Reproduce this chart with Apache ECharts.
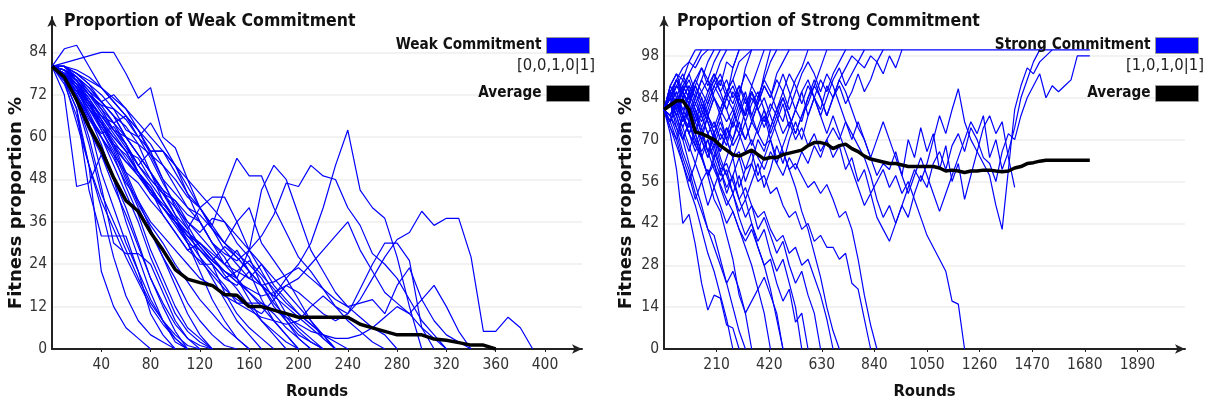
<!DOCTYPE html>
<html>
<head>
<meta charset="utf-8">
<title>Proportion of Weak / Strong Commitment</title>
<script src="https://cdn.jsdelivr.net/npm/echarts@6/dist/echarts.min.js"></script>
<style>
html, body { margin: 0; padding: 0; background: #fff; }
#chart { width: 1206px; height: 405px; }
</style>
</head>
<body>
<div id="chart"></div>
<script>
// ---- weak commitment (left), one value every 10 rounds, run stops when it hits 0
var weakStep = 10;
var weakYTicks = [0, 12, 24, 36, 48, 60, 72, 84];
var weakXTicks = [40, 80, 120, 160, 200, 240, 280, 320, 360, 400];
var weakAverage = [80, 77, 70.5, 63, 56.5, 48.5, 42, 39, 33, 28, 22.5, 19.8, 18.8, 18, 15.4, 15.2, 12, 12, 11, 10,
    9, 9, 9, 9, 9, 7, 6, 5, 4, 4, 4, 2.8, 2.5, 1.8, 1.1, 1.1, 0];
var weakRuns = [
    [80, 76, 68, 52, 22, 12, 6, 3, 0],
    [80, 75, 66, 52, 40, 26, 15, 8, 4, 2, 0],
    [80, 76, 68, 45, 32, 32, 32, 22, 10, 4, 0],
    [80, 78, 72, 64, 50, 40, 30, 22, 14, 8, 3, 0],
    [80, 79, 74, 66, 58, 48, 36, 26, 16, 8, 2, 0],
    [80, 77, 71, 60, 46, 30, 27, 27, 24, 16, 8, 3, 0],
    [80, 78, 73, 67, 60, 52, 44, 36, 26, 18, 10, 5, 2, 0],
    [80, 80, 76, 70, 62, 55, 46, 38, 28, 20, 12, 6, 3, 0],
    [80, 72, 46, 47, 55, 48, 40, 30, 20, 12, 5, 0],
    [80, 79, 75, 70, 64, 58, 50, 42, 34, 26, 18, 10, 4, 0],
    [80, 77, 70, 62, 55, 46, 38, 29, 20, 13, 7, 3, 1, 0],
    [80, 78, 74, 68, 62, 56, 48, 40, 33, 26, 20, 13, 8, 4, 1, 0],
    [80, 78, 70, 58, 44, 36, 28, 20, 13, 8, 4, 1, 0],
    [80, 76, 64, 52, 42, 34, 26, 19, 12, 7, 3, 0],
    [80, 79, 76, 71, 65, 57, 49, 41, 35, 30, 24, 19, 14, 10, 6, 3, 0],
    [80, 80, 78, 75, 70, 66, 60, 55, 50, 45, 38, 30, 22, 14, 8, 3, 0],
    [80, 79, 76, 72, 68, 62, 58, 52, 56, 48, 40, 34, 26, 20, 14, 8, 4, 0],
    [80, 78, 74, 70, 66, 64, 60, 55, 50, 42, 36, 30, 24, 24, 16, 10, 6, 3, 0],
    [80, 80, 77, 74, 70, 72, 68, 62, 56, 56, 50, 44, 36, 30, 24, 28, 22, 14, 8, 4, 0],
    [80, 79, 76, 72, 69, 68, 65, 60, 64, 58, 52, 46, 40, 34, 30, 27, 24, 20, 14, 8, 3, 0],
    [80, 78, 75, 70, 66, 62, 60, 58, 50, 44, 40, 36, 32, 28, 24, 20, 16, 12, 8, 4, 0],
    [80, 77, 73, 68, 64, 60, 56, 54, 48, 44, 42, 36, 33, 37, 36, 30, 26, 18, 12, 8, 4, 2, 0],
    [80, 80, 79, 77, 74, 70, 66, 62, 55, 48, 44, 40, 38, 34, 30, 26, 22, 18, 15, 12, 9, 6, 3, 0],
    [80, 78, 74, 69, 65, 60, 56, 50, 46, 40, 36, 31, 26, 22, 18, 13, 13, 13, 10, 6, 3, 0],
    [80, 79, 77, 73, 68, 64, 58, 52, 48, 44, 38, 34, 40, 43, 43, 36, 28, 22, 16, 10, 6, 3, 0],
    [80, 79, 77, 74, 70, 66, 63, 58, 55, 52, 48, 43, 40, 35, 30, 36, 40, 30, 25, 20, 14, 8, 3, 0],
    [80, 80, 78, 76, 74, 71, 68, 64, 60, 56, 52, 48, 44, 40, 36, 32, 28, 24, 20, 16, 12, 8, 4, 0],
    [80, 77, 72, 66, 61, 63, 58, 50, 45, 38, 33, 28, 30, 26, 21, 17, 12, 8, 5, 2, 0],
    [80, 80, 77, 72, 69, 64, 66, 60, 54, 47, 41, 35, 29, 25, 29, 26, 22, 18, 13, 9, 5, 2, 0],
    [80, 79, 75, 69, 63, 57, 53, 49, 45, 41, 37, 32, 28, 24, 20, 22, 25, 21, 17, 13, 10, 7, 4, 2, 0],
    [80, 81, 82, 83, 84, 84, 78, 71, 74, 60, 57, 48, 40, 34, 28, 24, 20, 24, 18, 14, 10, 7, 4, 0],
    [80, 85, 86, 80, 74, 70, 66, 62, 58, 52, 46, 40, 36, 30, 26, 20, 14, 8, 4, 0],
    [80, 78, 74, 70, 64, 58, 55, 50, 44, 40, 35, 30, 28, 24, 20, 18, 22, 18, 15, 20, 24, 30, 40, 52, 62, 45, 40, 37, 26, 12, 0],
    [80, 76, 72, 65, 60, 55, 50, 47, 42, 38, 33, 28, 25, 21, 17, 14, 12, 10, 14, 18, 16, 13, 10, 8, 10, 14, 20, 26, 31, 33, 39, 35, 37, 37, 26, 5, 5, 9, 6, 0],
    [80, 77, 72, 66, 60, 54, 47, 42, 36, 32, 28, 24, 20, 18, 15, 13, 11, 9, 8, 7, 8, 12, 15, 12, 10, 17, 24, 30, 30, 25, 6, 0],
    [80, 79, 77, 73, 70, 66, 60, 55, 50, 45, 42, 38, 36, 30, 27, 25, 28, 32, 38, 47, 46, 52, 49, 48, 40, 35, 27, 24, 20, 14, 8, 4, 0],
    [80, 80, 78, 75, 72, 68, 62, 60, 56, 56, 52, 44, 40, 35, 45, 54, 49, 49, 40, 33, 26, 22, 17, 12, 8, 5, 2, 0],
    [80, 77, 73, 68, 63, 58, 53, 50, 46, 40, 36, 32, 30, 26, 22, 20, 28, 45, 52, 48, 38, 28, 22, 16, 12, 9, 6, 4, 0],
    [80, 78, 75, 71, 66, 61, 56, 50, 45, 40, 36, 32, 28, 25, 22, 19, 17, 15, 16, 18, 20, 24, 28, 32, 36, 28, 22, 16, 13, 10, 6, 3, 0],
    [80, 79, 76, 72, 67, 62, 57, 52, 47, 42, 37, 33, 29, 25, 22, 19, 16, 13, 11, 9, 7, 5, 4, 3, 3, 4, 6, 9, 12, 10, 14, 18, 12, 5, 0],
    [80, 78, 74, 69, 64, 59, 54, 49, 44, 40, 36, 33, 30, 27, 24, 22, 20, 18, 19, 21, 23, 20, 17, 14, 12, 13, 14, 10, 18, 23, 14, 8, 4, 2, 0]
];

// ---- strong commitment (right), one value every 25 rounds
var strongStep = 25;
var strongYTicks = [0, 14, 28, 42, 56, 70, 84, 98];
var strongXTicks = [210, 420, 630, 840, 1050, 1260, 1470, 1680, 1890];
var strongAverage = [80, 81.5, 83, 83, 80, 72.5, 72, 71, 70, 68, 66.5, 65, 64.5, 65.5, 66.5, 65, 63.5, 64, 64, 65,
    65.5, 66, 66.5, 68, 69, 69, 68.5, 67, 68, 68.5, 67, 66, 64.5, 63.5, 63, 62.5, 62, 62, 61.5, 61,
    61, 61, 61, 61, 60.5, 59.5, 59.8, 59.5, 59, 59.5, 59.5, 59.8, 59.8, 59.5, 59.3, 59.5, 60.5, 61, 62, 62.3,
    62.8, 63.1, 63.1, 63.1, 63.1, 63.1, 63.1, 63.1, 63.1];
// runs that fixed at 100 stay there until the last round
var strongFixed = [[125, 100], [1700, 100]];
var strongRuns = [
    [80, 86, 90, 94, 96, 100],
    [80, 84, 88, 86, 92, 96, 100],
    [80, 88, 92, 90, 96, 94, 98, 100],
    [80, 82, 78, 84, 88, 84, 90, 96, 100],
    [80, 84, 90, 86, 82, 88, 94, 90, 96, 100],
    [80, 86, 82, 88, 92, 86, 80, 86, 90, 96, 100],
    [80, 82, 88, 84, 78, 84, 90, 86, 92, 88, 96, 94, 100],
    [80, 76, 82, 78, 86, 80, 74, 80, 86, 90, 84, 94, 100],
    [80, 78, 84, 90, 86, 80, 76, 82, 88, 92, 86, 90, 96, 98, 100],
    [80, 84, 78, 72, 66, 74, 70, 78, 84, 80, 86, 90, 84, 94, 100],
    [80, 86, 82, 76, 82, 88, 84, 78, 72, 78, 84, 80, 86, 92, 88, 94, 100],
    [80, 74, 68, 62, 56, 62, 70, 64, 72, 78, 70, 76, 82, 78, 86, 82, 92, 100],
    [80, 82, 74, 70, 76, 68, 64, 58, 64, 72, 68, 76, 72, 80, 88, 84, 90, 96, 100],
    [80, 86, 80, 84, 78, 72, 80, 76, 70, 66, 74, 70, 78, 84, 76, 82, 88, 84, 92, 96, 100],
    [80, 78, 72, 64, 58, 50, 56, 48, 54, 60, 52, 58, 64, 56, 62, 70, 66, 74, 80, 76, 84, 90, 94, 100],
    [80, 82, 86, 78, 74, 80, 72, 66, 70, 62, 58, 64, 54, 60, 66, 58, 64, 70, 62, 68, 74, 80, 76, 84, 88, 94, 100],
    [80, 88, 92, 86, 90, 84, 78, 84, 90, 86, 80, 74, 80, 86, 78, 72, 78, 70, 76, 82, 74, 80, 86, 78, 84, 90, 86, 92, 96, 100],
    [80, 76, 82, 88, 84, 78, 72, 66, 72, 64, 58, 52, 58, 50, 56, 62, 54, 60, 68, 62, 70, 76, 70, 78, 84, 80, 88, 84, 90, 94, 98, 96, 100],
    [80, 76, 82, 78, 72, 78, 84, 78, 72, 66, 72, 78, 84, 78, 86, 80, 74, 80, 86, 92, 86, 80, 86, 90, 84, 78, 84, 90, 94, 88,
        92, 96, 94, 98, 96, 100],
    [80, 84, 80, 86, 82, 76, 82, 76, 70, 76, 70, 64, 70, 76, 68, 74, 80, 72, 78, 84, 78, 72, 78, 84, 90, 84, 78, 84, 88, 82,
        86, 92, 86, 90, 96, 92, 98, 94, 100],
    [80, 76, 70, 62, 54, 48, 40, 32, 26, 18, 10, 0],
    [80, 72, 60, 42, 45, 35, 22, 13, 18, 17, 8, 7, 0],
    [80, 84, 78, 70, 62, 55, 48, 40, 38, 30, 22, 14, 6, 0],
    [80, 86, 82, 76, 80, 72, 65, 58, 50, 46, 38, 30, 18, 12, 0],
    [80, 84, 80, 74, 68, 62, 56, 60, 54, 48, 42, 46, 40, 34, 28, 20, 12, 0],
    [80, 82, 78, 84, 76, 70, 64, 58, 62, 54, 48, 52, 44, 38, 42, 34, 28, 20, 10, 0],
    [80, 78, 74, 66, 60, 52, 46, 40, 34, 28, 22, 26, 20, 12, 16, 20, 24, 18, 12, 0],
    [80, 86, 80, 74, 80, 72, 66, 70, 62, 56, 60, 52, 46, 50, 42, 36, 40, 32, 26, 30, 22, 14, 0],
    [80, 88, 84, 78, 72, 68, 74, 66, 60, 55, 50, 46, 40, 36, 40, 34, 28, 30, 22, 16, 20, 9, 12, 0],
    [80, 78, 84, 78, 72, 76, 70, 64, 68, 60, 54, 58, 50, 44, 48, 40, 44, 38, 32, 36, 28, 22, 26, 18, 12, 0],
    [80, 76, 82, 86, 80, 74, 70, 72, 66, 60, 62, 56, 50, 54, 48, 44, 46, 40, 36, 38, 32, 34, 28, 30, 24, 18, 10, 0],
    [80, 84, 88, 92, 86, 90, 94, 88, 92, 86, 90, 84, 88, 82, 86, 80, 84, 78, 72, 66, 60, 54, 46, 40, 32, 24, 14, 6, 0],
    [80, 84, 90, 86, 82, 76, 78, 72, 68, 74, 70, 64, 66, 60, 62, 56, 58, 52, 54, 48, 44, 46, 40, 42, 36, 38, 34, 34, 30, 32,
        22, 20, 10, 0],
    [80, 82, 86, 80, 84, 88, 82, 78, 84, 80, 76, 80, 74, 70, 76, 72, 68, 70, 64, 66, 60, 62, 58, 54, 56, 52, 55, 50, 44, 46,
        40, 30, 18, 8, 0],
    [80, 84, 80, 88, 84, 90, 86, 82, 88, 84, 80, 86, 82, 78, 84, 80, 76, 82, 78, 72, 76, 70, 74, 68, 72, 66, 70, 64, 68, 60,
        64, 56, 60, 52, 56, 60, 54, 58, 52, 56, 50, 44, 38, 34, 30, 26, 16, 15, 0],
    [80, 78, 84, 80, 76, 82, 78, 72, 76, 70, 74, 68, 72, 66, 70, 64, 60, 66, 62, 58, 64, 60, 66, 62, 68, 64, 70, 74, 70, 76,
        72, 68, 64, 58, 50, 44, 48, 42, 48, 54, 60, 56, 62, 70, 78, 72, 80, 87, 76, 70, 66, 62, 58, 48, 40, 60, 80, 88, 94, 92,
        96, 98, 100],
    [80, 86, 90, 84, 88, 82, 86, 90, 84, 78, 84, 88, 82, 76, 82, 86, 80, 74, 80, 84, 78, 72, 78, 82, 88, 84, 78, 84, 90, 86,
        80, 74, 70, 64, 58, 62, 60, 66, 58, 70, 64, 74, 66, 72, 60, 68, 56, 62, 50, 58, 66, 74, 78, 72, 76, 64, 54],
    [80, 74, 70, 78, 72, 66, 72, 78, 74, 80, 86, 82, 88, 84, 78, 84, 90, 86, 80, 86, 92, 88, 82, 88, 84, 78, 72, 78, 72, 66,
        60, 54, 48, 52, 44, 40, 36, 42, 48, 44, 52, 58, 54, 62, 66, 60, 68, 72, 66, 74, 70, 64, 62, 56, 66, 72, 70, 78, 84, 88,
        92, 84, 88, 86, 88, 90, 98, 98, 98],
    [80, 82, 76, 70, 76, 70, 64, 70, 64, 58, 64, 70, 76, 70, 76, 82, 88, 84, 90, 86, 80, 86, 92, 96, 92, 86, 92, 88, 82, 76,
        70, 76, 70, 64, 70, 76, 70, 64, 58, 52, 58, 64, 58, 52, 46, 52, 58, 64, 70, 76, 72, 78, 64, 70, 60, 66, 74, 84, 90, 96,
        100]
];

var BLUE = '#0000ff';
var FONT = "'Liberation Sans Narrow', 'DejaVu Sans Condensed', 'Liberation Sans', sans-serif";
var NAME_FONT = "'DejaVu Sans', sans-serif";

function runLine(values, step, idx, name) {
    return {
        name: name,
        type: 'line',
        xAxisIndex: idx,
        yAxisIndex: idx,
        data: values.map(function (v, i) { return [i * step, v]; }),
        showSymbol: false,
        silent: true,
        itemStyle: { color: BLUE },
        lineStyle: { color: BLUE, width: 1.2 },
        z: 2
    };
}

function avgLine(values, step, idx) {
    return {
        name: 'Average',
        type: 'line',
        xAxisIndex: idx,
        yAxisIndex: idx,
        data: values.map(function (v, i) { return [i * step, v]; }),
        showSymbol: false,
        silent: true,
        itemStyle: { color: '#000' },
        lineStyle: { color: '#000', width: 3.5 },
        z: 5
    };
}

function plain(v) { return String(v); }

function xAxis(idx, max, interval, ticks) {
    return {
        type: 'value', gridIndex: idx, min: 0, max: max, interval: interval,
        name: 'Rounds', nameLocation: 'middle', nameGap: 34,
        nameTextStyle: { fontFamily: FONT, fontWeight: 'bold', fontSize: 16.5, color: '#111' },
        axisLine: { symbol: ['none', 'arrow'], symbolSize: [7, 10], lineStyle: { color: '#222', width: 2 } },
        axisTick: { show: true, length: 3, customValues: ticks, lineStyle: { color: '#222' } },
        axisLabel: { customValues: ticks, formatter: plain, margin: 8, fontFamily: FONT, fontSize: 15.5, color: '#333' },
        splitLine: { show: false }
    };
}

function yAxis(idx, max, interval, ticks, gap) {
    return {
        type: 'value', gridIndex: idx, min: 0, max: max, interval: interval,
        name: 'Fitness proportion %', nameLocation: 'middle', nameGap: gap,
        // the name sits a little below the middle of the axis
        nameTextStyle: { fontFamily: NAME_FONT, fontWeight: 'bold', fontSize: 18, color: '#111', padding: [0, 40, 0, 0] },
        axisLine: { show: true, symbol: ['none', 'arrow'], symbolSize: [7, 10], lineStyle: { color: '#222', width: 2 } },
        axisTick: { show: false },
        axisLabel: { customValues: ticks, formatter: plain, margin: 5, fontFamily: FONT, fontSize: 15.5, color: '#333' },
        splitLine: { show: true, showMinLine: false, showMaxLine: false, lineStyle: { color: '#eeeeee', width: 1.5 } }
    };
}

function legend(right, name) {
    return {
        orient: 'vertical', right: right, top: 32, align: 'right', icon: 'rect',
        itemWidth: 43, itemHeight: 16, itemGap: 31, selectedMode: false,
        textStyle: { fontFamily: FONT, fontWeight: 'bold', fontSize: 15.2, color: '#111' },
        itemStyle: { borderColor: '#999', borderWidth: 1 },
        data: [
            { name: name, itemStyle: { color: BLUE } },
            { name: 'Average', itemStyle: { color: '#000' } }
        ]
    };
}

var series = [];
weakRuns.forEach(function (run) { series.push(runLine(run, weakStep, 0, 'Weak Commitment')); });
series.push(avgLine(weakAverage, weakStep, 0));
strongRuns.forEach(function (run) { series.push(runLine(run, strongStep, 1, 'Strong Commitment')); });
series.push({
    name: 'Strong Commitment', type: 'line', xAxisIndex: 1, yAxisIndex: 1,
    data: strongFixed, showSymbol: false, silent: true,
    itemStyle: { color: BLUE }, lineStyle: { color: BLUE, width: 1.4 }, z: 2
});
series.push(avgLine(strongAverage, strongStep, 1));

var chart = echarts.init(document.getElementById('chart'));
chart.setOption({
    animation: false,
    backgroundColor: '#fff',
    title: [
        { text: 'Proportion of Weak Commitment', left: 64, top: 12, padding: 0,
          textStyle: { fontFamily: FONT, fontWeight: 'bold', fontSize: 17.5, color: '#111' } },
        { text: 'Proportion of Strong Commitment', left: 677, top: 12, padding: 0,
          textStyle: { fontFamily: FONT, fontWeight: 'bold', fontSize: 17.5, color: '#111' } }
    ],
    legend: [legend(611, 'Weak Commitment'), legend(2, 'Strong Commitment')],
    graphic: [
        { type: 'text', right: 611, top: 57, style: { text: '[0,0,1,0|1]', font: "16.5px " + FONT, fill: '#222' } },
        { type: 'text', right: 2, top: 57, style: { text: '[1,0,1,0|1]', font: "16.5px " + FONT, fill: '#222' } }
    ],
    grid: [
        { left: 52, right: 624, top: 17, bottom: 53 },
        { left: 664, right: 21, top: 17, bottom: 53 }
    ],
    xAxis: [xAxis(0, 430, 40, weakXTicks), xAxis(1, 2080, 210, strongXTicks)],
    yAxis: [yAxis(0, 94, 12, weakYTicks, 25), yAxis(1, 111, 14, strongYTicks, 29)],
    series: series
});
</script>
</body>
</html>
